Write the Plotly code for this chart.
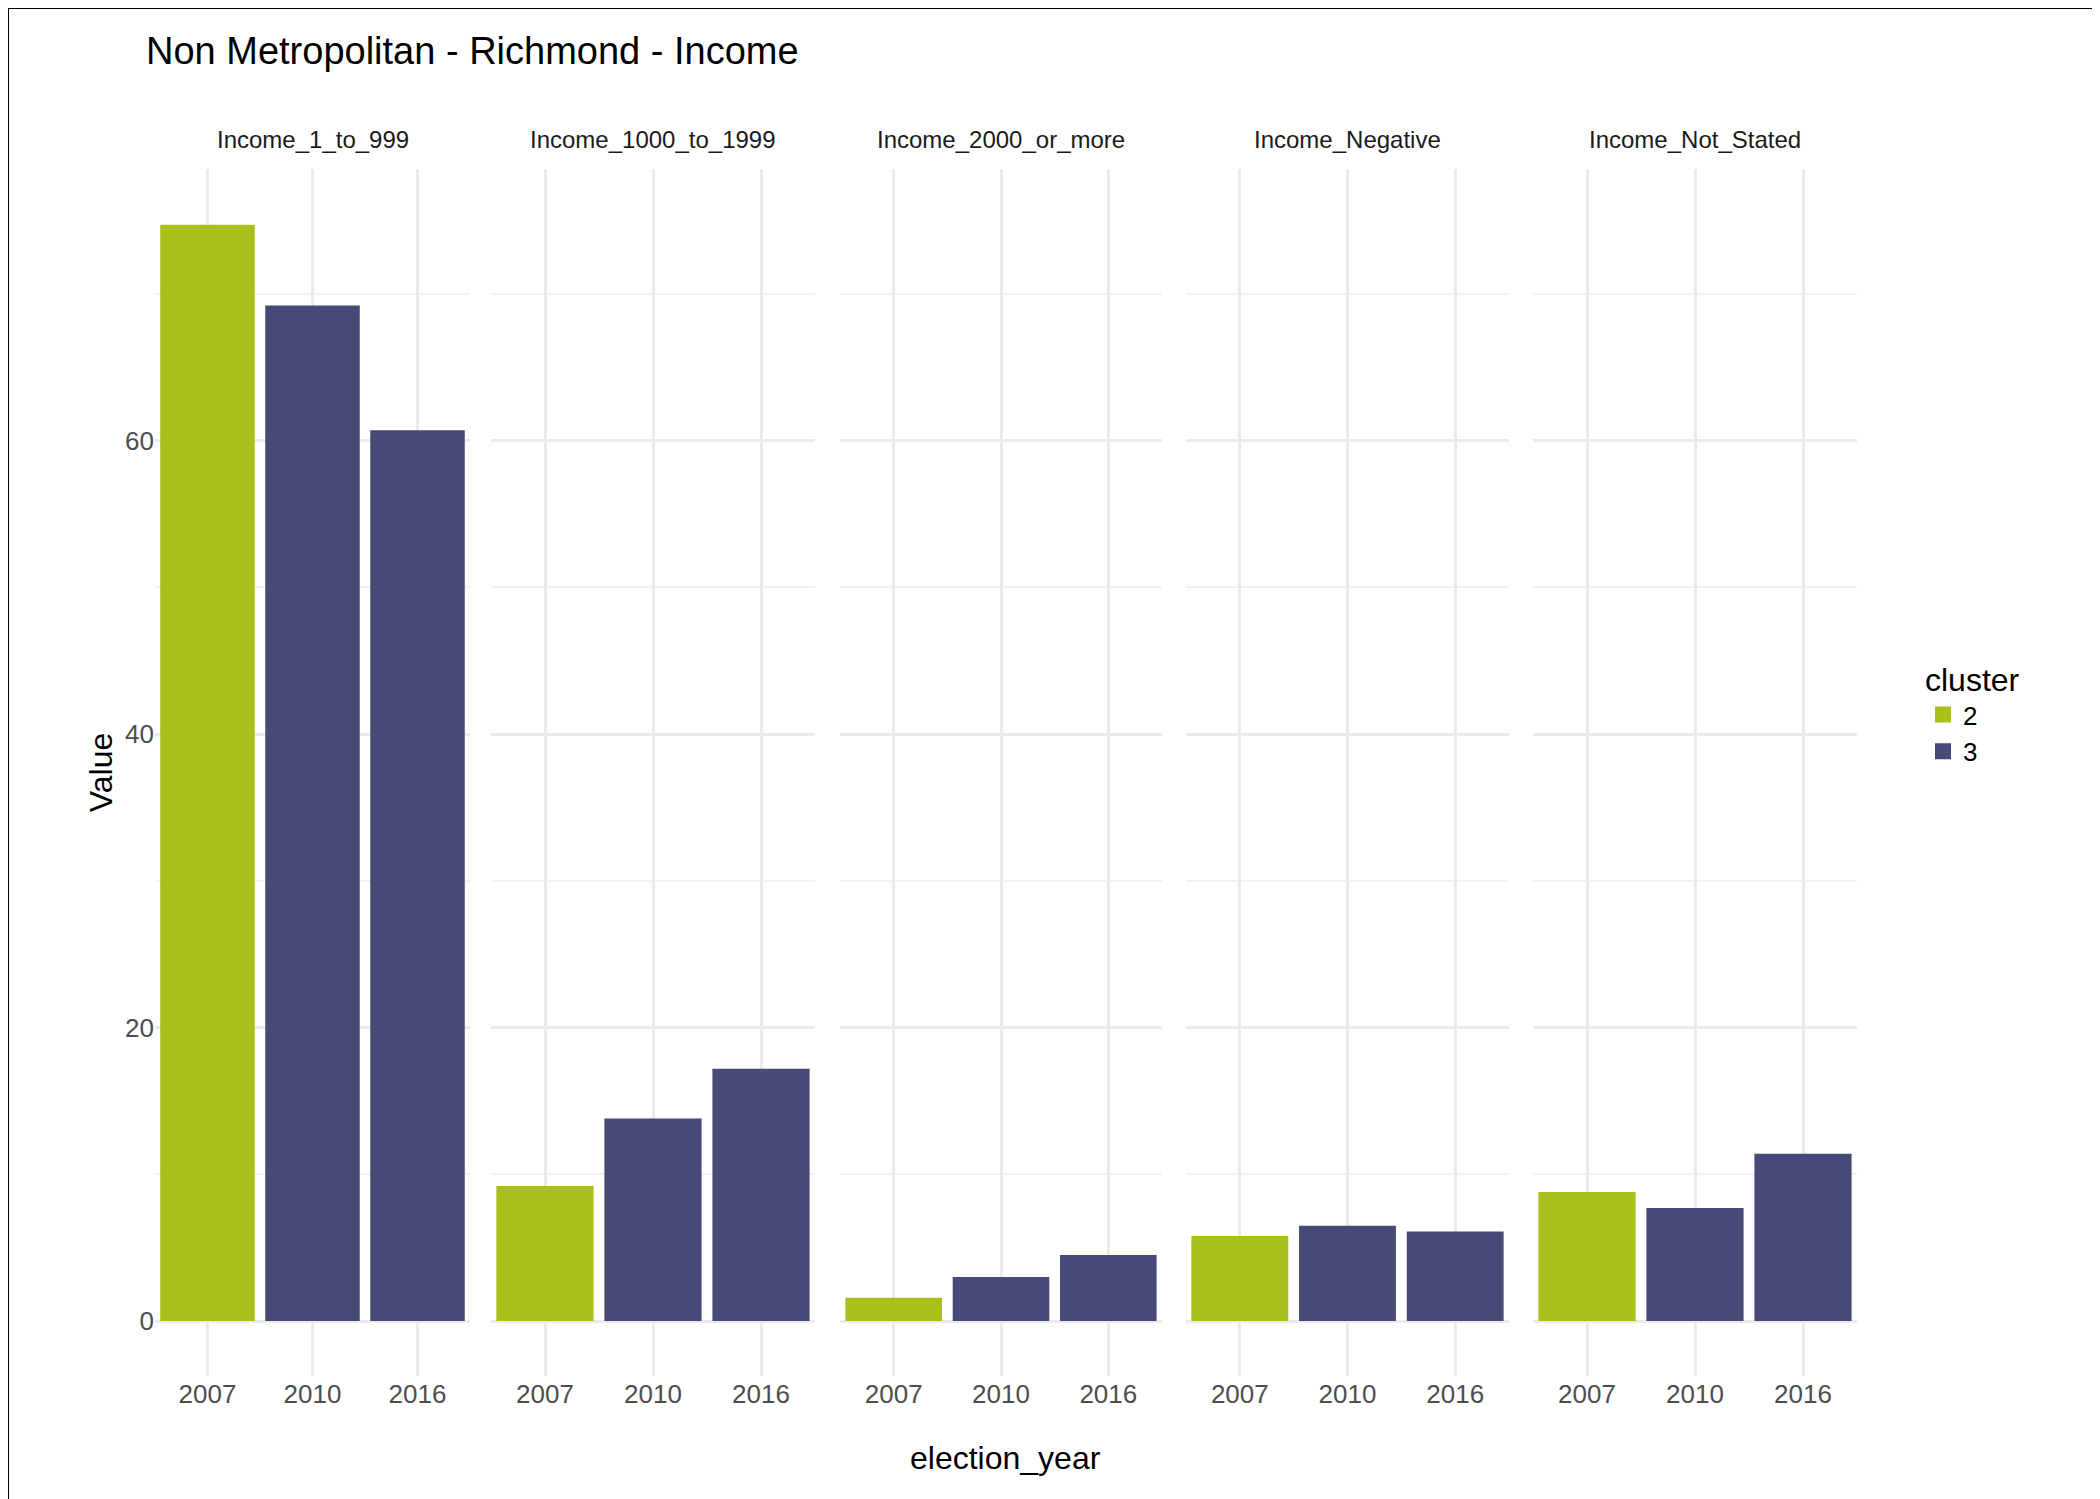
import plotly.graph_objects as go
from plotly.subplots import make_subplots

# %% Data.
panels = ["Income_1_to_999", "Income_1000_to_1999", "Income_2000_or_more",
          "Income_Negative", "Income_Not_Stated"]
years = ["2007", "2010", "2016"]
values = [
    [74.7, 69.2, 60.7],
    [9.2, 13.8, 17.2],
    [1.6, 3.0, 4.5],
    [5.8, 6.5, 6.1],
    [8.8, 7.7, 11.4],
]
clusters = ["2", "3", "3"]
colors = {"2": "#A9C01A", "3": "#474A76"}

# %% Build figure.
W, H = 2100, 1499
px_domains = [(147, 462), (483, 807), (832, 1154), (1178, 1501), (1525, 1849)]
fig = make_subplots(rows=1, cols=5, shared_yaxes=True)
for i, (name, vals) in enumerate(zip(panels, values)):
    for cl in ["2", "3"]:
        xs = [y for y, c in zip(years, clusters) if c == cl]
        ys = [v for v, c in zip(vals, clusters) if c == cl]
        fig.add_trace(go.Bar(x=xs, y=ys, name=cl, marker_color=colors[cl],
                             marker_line_width=0, showlegend=False),
                      row=1, col=i + 1)
    ax = "xaxis" if i == 0 else f"xaxis{i + 1}"
    d0, d1 = px_domains[i]
    fig.layout[ax].update(domain=[d0 / W, d1 / W], type="category",
                          categoryorder="array", categoryarray=years,
                          showgrid=True, gridcolor="#EBEBEB", gridwidth=2.5,
                          tickfont=dict(size=26, color="#4D4D4D"), ticks="",
                          ticklen=0, zeroline=False)
    fig.add_annotation(text=name, x=(d0 + d1) / 2 / W, y=1 - 132 / H,
                       xref="paper", yref="paper", showarrow=False,
                       xanchor="center", yanchor="middle",
                       font=dict(size=24, color="#1A1A1A"))

# legend-only square keys
for cl in ["2", "3"]:
    fig.add_trace(go.Scatter(x=[None], y=[None], mode="markers", name=cl,
                             marker=dict(symbol="square", size=30, color=colors[cl])),
                  row=1, col=1)

ydom = [1 - 1368 / H, 1 - 161 / H]
for i in range(5):
    ay = "yaxis" if i == 0 else f"yaxis{i + 1}"
    fig.layout[ay].update(domain=ydom, range=[-3.74, 78.5], tickvals=[0, 20, 40, 60],
                          showgrid=True, gridcolor="#EBEBEB", gridwidth=2.5,
                          zeroline=False, minor=dict(showgrid=True, gridcolor="#F2F2F2",
                                                     gridwidth=1.5, dtick=10, tick0=0),
                          tickfont=dict(size=26, color="#4D4D4D"))
fig.layout.yaxis.title = dict(text="Value", font=dict(size=32, color="#000"), standoff=2)
fig.add_annotation(text="election_year", x=997 / W, y=1 - 1450 / H, xref="paper",
                   yref="paper", showarrow=False, xanchor="center", yanchor="middle",
                   font=dict(size=32, color="#000"))

fig.update_layout(
    width=W, height=H, barmode="overlay", bargap=0.1,
    plot_bgcolor="white", paper_bgcolor="white",
    font=dict(family="Liberation Sans, Arial, sans-serif"),
    margin=dict(l=0, r=0, t=0, b=0),
    title=dict(text="Non Metropolitan - Richmond - Income", x=138 / W, y=1 - 43 / H,
               xanchor="left", yanchor="middle", font=dict(size=38, color="#000")),
    legend=dict(x=1915 / W, y=0.53, xanchor="left", yanchor="middle",
                title=dict(text="cluster", font=dict(size=32, color="#000")),
                font=dict(size=26, color="#000"), itemsizing="trace",
                tracegroupgap=6),
    shapes=[dict(type="rect", xref="paper", yref="paper", x0=0, y0=0, x1=1, y1=1,
                 line=dict(color="black", width=2))],
)

fig.write_html("out.html")
